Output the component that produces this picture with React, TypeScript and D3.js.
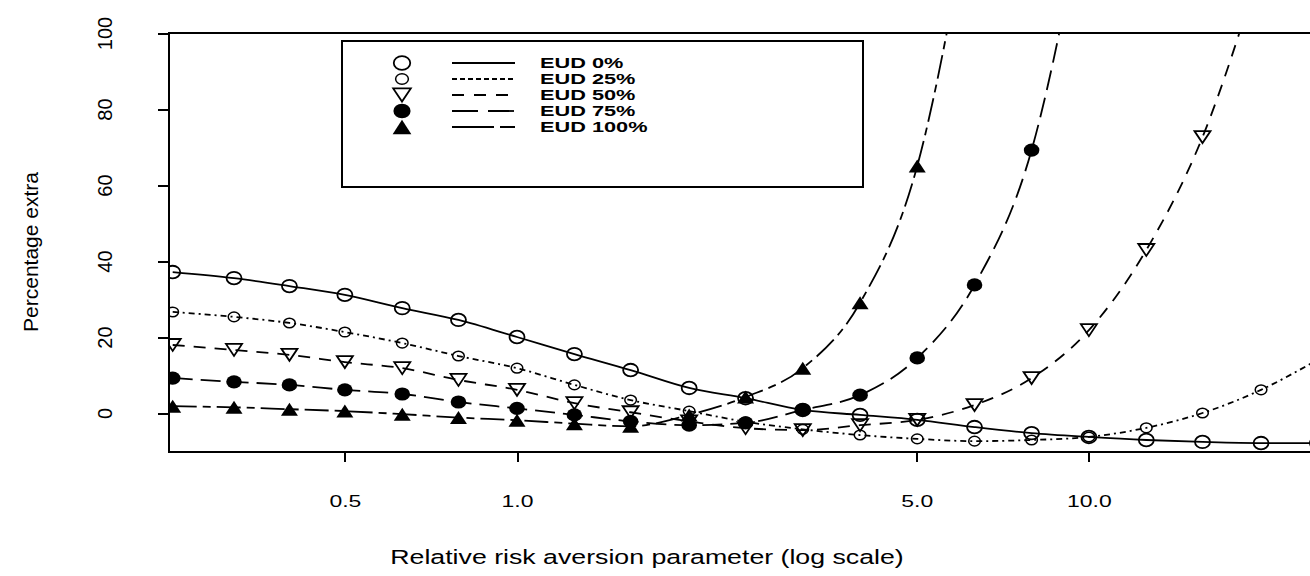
import React, { useEffect, useRef } from "react";
import * as d3 from "d3";

// relative risk aversion parameter (points on a log grid)
const xValues = [0.25, 0.32, 0.4, 0.5, 0.63, 0.79, 1.0, 1.26, 1.58, 2.0, 2.51, 3.16, 3.98, 5.01, 6.31, 7.94, 10.0, 12.6, 15.8, 20.0, 25.1];

// percentage extra, one array per EUD level (null = beyond the plotted range)
const eud0 = [37.1, 35.5, 33.4, 31.1, 27.6, 24.5, 20.0, 15.5, 11.3, 6.6, 3.9, 0.8, -0.5, -1.8, -3.7, -5.3, -6.3, -7.1, -7.6, -7.9, -7.9];
const eud25 = [26.6, 25.3, 23.7, 21.3, 18.4, 15.0, 11.8, 7.4, 3.4, 0.5, -2.3, -4.3, -5.8, -6.8, -7.4, -7.1, -6.3, -3.9, 0.0, 6.1, 14.0];
const eud50 = [17.9, 16.6, 15.3, 13.4, 11.8, 8.7, 6.1, 2.6, 0.2, -2.2, -4.0, -4.5, -3.2, -1.8, 2.1, 9.2, 21.8, 42.9, 72.6, 118, null];
const eud75 = [9.2, 8.2, 7.4, 6.1, 5.0, 2.9, 1.2, -0.5, -2.2, -3.2, -2.6, 0.8, 4.7, 14.5, 33.7, 69.2, 140, null, null, null, null];
const eud100 = [1.8, 1.5, 1.0, 0.5, -0.3, -1.2, -1.9, -2.8, -3.5, -0.5, 4.2, 11.8, 29.0, 65.0, 140, null, null, null, null, null, null];

const seriesLabels = ["EUD 0%", "EUD 25%", "EUD 50%", "EUD 75%", "EUD 100%"];
const seriesValues = [eud0, eud25, eud50, eud75, eud100];

const yTicks = [0, 20, 40, 60, 80, 100];
const xTicks = [0.5, 1, 5, 10];
const xTickLabels = ["0.5", "1.0", "5.0", "10.0"];

// marker and line style per series
const styles = [
  { marker: "circle", dash: null, legendDash: null },
  { marker: "smallCircle", dash: "6,4,2,4", legendDash: "5,3" },
  { marker: "triDown", dash: "12,9", legendDash: "12,10" },
  { marker: "dot", dash: "20,8", legendDash: "26,10" },
  { marker: "triUp", dash: "24,6,8,6", legendDash: "42,6,15,6" },
];

const FONT = "'Liberation Sans', Arial, Helvetica, sans-serif";

function drawMarker(g, type, cx, cy, s) {
  // s: size multiplier; glyphs come out a bit wider than tall in the original
  if (type === "circle") {
    g.append("ellipse").attr("cx", cx).attr("cy", cy).attr("rx", 7.5 * s).attr("ry", 6.3 * s)
      .attr("fill", "none").attr("stroke", "#000").attr("stroke-width", 1.8);
  } else if (type === "smallCircle") {
    g.append("ellipse").attr("cx", cx).attr("cy", cy).attr("rx", 5.8 * s).attr("ry", 4.8 * s)
      .attr("fill", "none").attr("stroke", "#000").attr("stroke-width", 1.5);
  } else if (type === "dot") {
    g.append("ellipse").attr("cx", cx).attr("cy", cy).attr("rx", 7.8 * s).attr("ry", 6.6 * s)
      .attr("fill", "#000");
  } else if (type === "triDown") {
    const w = 16 * s, h = 12 * s;
    g.append("path")
      .attr("d", `M${cx - w / 2},${cy - h / 2}L${cx + w / 2},${cy - h / 2}L${cx},${cy + h / 2}Z`)
      .attr("fill", "none").attr("stroke", "#000").attr("stroke-width", 1.8);
  } else if (type === "triUp") {
    const w = 17 * s, h = 13 * s;
    g.append("path")
      .attr("d", `M${cx - w / 2},${cy + h / 2}L${cx + w / 2},${cy + h / 2}L${cx},${cy - h / 2}Z`)
      .attr("fill", "#000");
  }
}

function Chart() {
  const svgRef = useRef(null);

  useEffect(() => {
    const svg = d3.select(svgRef.current);
    svg.selectAll("*").remove();

    const box = { left: 169, top: 33, right: 1330, bottom: 452 };

    const x = d3.scaleLog().domain([0.2463, 26.4]).range([box.left, box.right]);
    const y = d3.scaleLinear().domain([-10.26, 100]).range([box.bottom, box.top]);

    svg.append("defs").append("clipPath").attr("id", "plot-clip")
      .append("rect")
      .attr("x", box.left).attr("y", box.top)
      .attr("width", box.right - box.left).attr("height", box.bottom - box.top);

    const plotG = svg.append("g").attr("clip-path", "url(#plot-clip)");

    const line = d3
      .line()
      .defined((d) => d[1] != null)
      .x((d) => x(d[0]))
      .y((d) => y(d[1]))
      .curve(d3.curveMonotoneX);

    seriesValues.forEach((vals, i) => {
      const pts = xValues.map((xv, j) => [xv, vals[j]]);
      plotG.append("path")
        .attr("d", line(pts))
        .attr("fill", "none")
        .attr("stroke", "#000")
        .attr("stroke-width", 1.8)
        .attr("stroke-dasharray", styles[i].dash);
    });

    seriesValues.forEach((vals, i) => {
      xValues.forEach((xv, j) => {
        if (vals[j] == null) return;
        drawMarker(plotG, styles[i].marker, x(xv), y(vals[j]), 1);
      });
    });

    // box
    svg.append("rect")
      .attr("x", box.left).attr("y", box.top)
      .attr("width", box.right - box.left).attr("height", box.bottom - box.top)
      .attr("fill", "none").attr("stroke", "#000").attr("stroke-width", 2)
      .attr("shape-rendering", "crispEdges");

    // x axis
    const xAxis = svg.append("g")
      .attr("transform", `translate(0,${box.bottom})`)
      .call(d3.axisBottom(x).tickValues(xTicks).tickSize(10).tickFormat((d, i) => xTickLabels[i]));
    xAxis.select(".domain").remove();
    xAxis.selectAll("line").attr("stroke", "#000").attr("stroke-width", 2).attr("shape-rendering", "crispEdges");
    xAxis.selectAll("text")
      .attr("y", 55).attr("dy", 0)
      .attr("fill", "#000")
      .attr("transform", "scale(1.35,1)")
      .style("font-family", FONT).style("font-size", "17px");

    // y axis
    const yAxis = svg.append("g")
      .attr("transform", `translate(${box.left},0)`)
      .call(d3.axisLeft(y).tickValues(yTicks).tickSize(11));
    yAxis.select(".domain").remove();
    yAxis.selectAll("line").attr("stroke", "#000").attr("stroke-width", 2).attr("shape-rendering", "crispEdges");
    yAxis.selectAll("text")
      .attr("x", 0).attr("dy", 0)
      .attr("text-anchor", "middle")
      .attr("fill", "#000")
      .attr("transform", "translate(-57,0) rotate(-90)")
      .style("font-family", FONT).style("font-size", "20px");

    // axis titles
    svg.append("text")
      .attr("transform", "translate(647,564) scale(1.37,1)")
      .attr("text-anchor", "middle")
      .style("font-family", FONT).style("font-size", "19.5px")
      .text("Relative risk aversion parameter (log scale)");

    svg.append("text")
      .attr("transform", "translate(38,252) rotate(-90)")
      .attr("text-anchor", "middle")
      .style("font-family", FONT).style("font-size", "21px")
      .text("Percentage extra");

    // legend
    const legend = svg.append("g");
    legend.append("rect")
      .attr("x", 342).attr("y", 41).attr("width", 521).attr("height", 146)
      .attr("fill", "#fff").attr("stroke", "#000").attr("stroke-width", 2)
      .attr("shape-rendering", "crispEdges");

    seriesLabels.forEach((label, i) => {
      const ly = 63 + i * 16;
      drawMarker(legend, styles[i].marker, 402, ly, 1.1);
      legend.append("line")
        .attr("x1", 452).attr("x2", 515).attr("y1", ly).attr("y2", ly)
        .attr("stroke", "#000").attr("stroke-width", 1.8)
        .attr("stroke-dasharray", styles[i].legendDash);
      legend.append("text")
        .attr("transform", `translate(540,${ly + 5}) scale(1.45,1)`)
        .style("font-family", FONT).style("font-size", "15px").style("font-weight", "bold")
        .text(label);
    });
  }, []);

  return <svg ref={svgRef} width={1310} height={576} style={{ display: "block", background: "#fff" }}></svg>;
}

export default function App() {
  return (
    <div style={{ position: "absolute", left: 0, top: 0, width: 1310, height: 576, overflow: "hidden", background: "#fff" }}>
      <Chart />
    </div>
  );
}
